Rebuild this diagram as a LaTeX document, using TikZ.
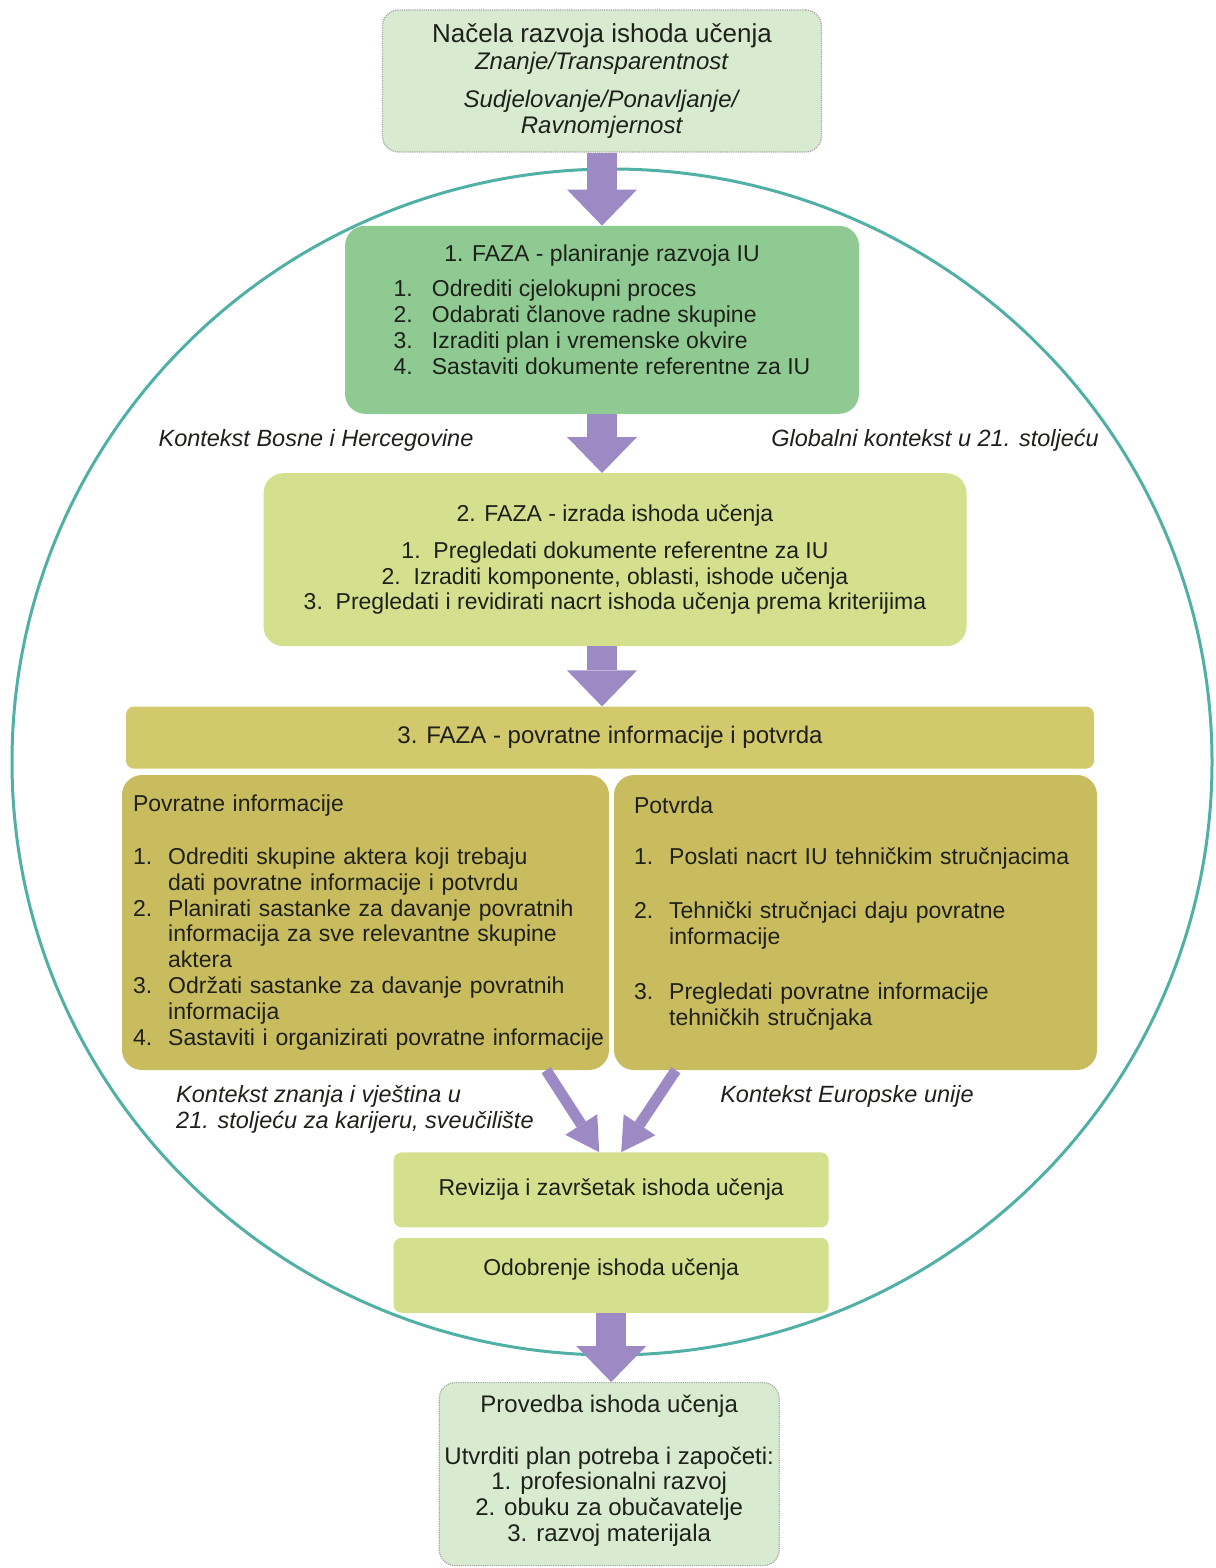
\documentclass[tikz,border=0pt]{standalone}
\usepackage{fontspec}
\setmainfont{Liberation Sans}
\usepackage{xcolor}
\usetikzlibrary{positioning}
\usetikzlibrary{arrows.meta}
\definecolor{svijetla}{RGB}{216,235,208}
\definecolor{zelena}{RGB}{143,202,146}
\definecolor{zuta}{RGB}{212,224,142}
\definecolor{maslinasta}{RGB}{210,200,108}
\definecolor{tamnija}{RGB}{201,188,94}
\definecolor{ljubicasta}{RGB}{157,138,196}
\definecolor{tirkizna}{RGB}{80,176,166}
\definecolor{tekst}{RGB}{30,32,26}
\tikzset{okvir node/.style={draw=gray!70,densely dotted,line width=1.2pt,rounded corners=16pt,fill=svijetla,align=center,inner sep=2pt},
  faza node/.style={rounded corners=20pt,align=center,inner sep=2pt},
  korak node/.style={rounded corners=8pt,fill=zuta,align=center,minimum width=435pt,minimum height=75pt},
  kontekst/.style={font=\fontsize{23.5}{25.8}\selectfont\itshape,align=left,inner sep=0pt},
  velika strelica/.style={color=ljubicasta,line width=30pt,-{Triangle[width=70pt,length=36pt,line width=0pt]}},
  mala strelica/.style={color=ljubicasta,line width=11pt,-{Triangle[width=38pt,length=33pt,line width=0pt]}},
  prsten/.style={draw=tirkizna,line width=3pt},}
\begin{document}
\begin{tikzpicture}[x=1pt,y=-1pt,font=\fontsize{23}{25.8}\selectfont,text=tekst]
 \useasboundingbox (0,0) rectangle (1215,1568);
 \draw[prsten] (612,762) ellipse [x radius=600pt,y radius=593pt];

 \node[okvir node,minimum width=439pt,minimum height=142pt] (nacela) at (602,81)
   {{\fontsize{26}{28}\selectfont Načela razvoja ishoda učenja}\\[1pt]
    \textit{\fontsize{24}{25.8}\selectfont Znanje/Transparentnost}\\[13pt]
    \textit{\fontsize{24}{25.8}\selectfont Sudjelovanje/Ponavljanje/}\\
    \textit{\fontsize{24}{25.8}\selectfont Ravnomjernost}};
 \node[faza node,fill=zelena,minimum width=514pt,minimum height=188pt] (faza1) [below=73pt of nacela]
   {1. FAZA - planiranje razvoja IU\\[12pt]
    \begin{tabular}{@{}l@{\hspace{19pt}}l@{}}
    1. & Odrediti cjelokupni proces\\
    2. & Odabrati članove radne skupine\\
    3. & Izraditi plan i vremenske okvire\\
    4. & Sastaviti dokumente referentne za IU
    \end{tabular}\\[12pt]\mbox{}};
 \node[faza node,fill=zuta,minimum width=703pt,minimum height=173pt] (faza2) [below=59pt of faza1,xshift=13pt]
   {2. FAZA - izrada ishoda učenja\\[11pt]
    1.\ \ Pregledati dokumente referentne za IU\\
    2.\ \ Izraditi komponente, oblasti, ishode učenja\\
    3.\ \ Pregledati i revidirati nacrt ishoda učenja prema kriterijima};
 \node[faza node,rounded corners=8pt,fill=maslinasta,minimum width=968pt,minimum height=62pt,font=\fontsize{24}{25.8}\selectfont] (faza3) [below=60pt of faza2,xshift=-5pt]
   {3. FAZA - povratne informacije i potvrda};
 \node[faza node,fill=tamnija,align=left,text width=465pt,inner xsep=11pt,minimum height=295pt] (povratne)
   [below=6pt of faza3.south west,anchor=north west,xshift=-4pt]
   {Povratne informacije\\[29pt]
    \begin{tabular}{@{}l@{\hspace{16pt}}l@{}}
    1. & Odrediti skupine aktera koji trebaju\\
       & dati povratne informacije i potvrdu\\
    2. & Planirati sastanke za davanje povratnih\\
       & informacija za sve relevantne skupine\\
       & aktera\\
    3. & Održati sastanke za davanje povratnih\\
       & informacija\\
    4. & Sastaviti i organizirati povratne informacije
    \end{tabular}\\[-4pt]\mbox{}};
 \node[faza node,fill=tamnija,align=left,text width=443pt,inner xsep=20pt,minimum height=295pt] (potvrda)
   [below=6pt of faza3.south east,anchor=north east,xshift=3pt]
   {Potvrda\\[31pt]
    \begin{tabular}{@{}l@{\hspace{16pt}}l@{}}
    1. & Poslati nacrt IU tehničkim stručnjacima\\[29pt]
    2. & Tehnički stručnjaci daju povratne\\
       & informacije\\[29pt]
    3. & Pregledati povratne informacije\\
       & tehničkih stručnjaka
    \end{tabular}\\[14pt]\mbox{}};
 \node[korak node] (revizija) [below=82pt of povratne.south east,anchor=north,xshift=2pt]
   {Revizija i završetak ishoda učenja};
 \node[korak node] (odobrenje) [below=10pt of revizija] {Odobrenje ishoda učenja\\[-10pt]\mbox{}};
 \node[okvir node,minimum width=340pt,minimum height=183pt,font=\fontsize{24}{25.8}\selectfont] (provedba) [below=69pt of odobrenje,xshift=-2pt]
   {Provedba ishoda učenja\\[26pt]
    Utvrditi plan potreba i započeti:\\
    1. profesionalni razvoj\\
    2. obuku za obučavatelje\\
    3. razvoj materijala\\[-14pt]\mbox{}};

 % konteksti
 \node[kontekst] (bih) at (316,440) {Kontekst Bosne i Hercegovine};
 \node[kontekst] (globalni) at (935,440) {Globalni kontekst u 21. stoljeću};
 \node[kontekst,anchor=west] (znanja) at (176,1109) {Kontekst znanja i vještina u\\21. stoljeću za karijeru, sveučilište};
 \node[kontekst] (eu) at (847,1096) {Kontekst Europske unije};

 \path[velika strelica] (nacela.south) edge (nacela.south |- faza1.north);
 \path[velika strelica] (faza1.south) edge (faza1.south |- faza2.north);
 \path[velika strelica] (faza1.south |- faza2.south) edge (faza1.south |- faza3.north);
 \path[mala strelica] ([xshift=-63pt]povratne.south east) edge ([xshift=-12pt]revizija.north);
 \path[mala strelica] ([xshift=62pt]potvrda.south west) edge ([xshift=10pt]revizija.north);
 \path[velika strelica] (odobrenje.south) edge (odobrenje.south |- provedba.north);
\end{tikzpicture}
\end{document}
